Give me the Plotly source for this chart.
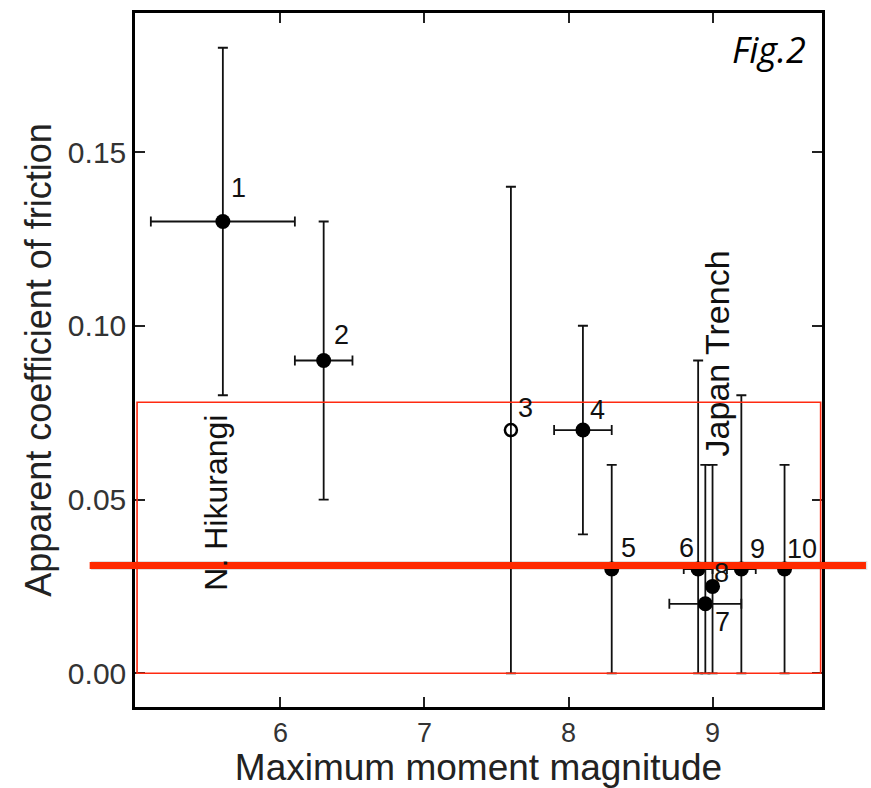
import plotly.graph_objects as go

# ---- data ----
labels = ["1", "2", "3", "4", "5", "6", "7", "8", "9", "10"]
mag = [5.6, 6.3, 7.6, 8.1, 8.3, 8.9, 8.95, 9.0, 9.2, 9.5]
mag_lo = [5.1, 6.1, 7.6, 7.9, 8.3, 8.8, 8.7, 9.0, 9.1, 9.5]
mag_hi = [6.1, 6.5, 7.6, 8.3, 8.3, 9.0, 9.2, 9.0, 9.3, 9.5]
mu = [0.13, 0.09, 0.07, 0.07, 0.03, 0.03, 0.02, 0.025, 0.03, 0.03]
mu_lo = [0.08, 0.05, 0.0, 0.04, 0.0, 0.0, 0.0, 0.0, 0.0, 0.0]
mu_hi = [0.18, 0.13, 0.14, 0.10, 0.06, 0.09, 0.06, 0.06, 0.08, 0.06]
open_marker = [False, False, True, False, False, False, False, False, False, False]
label_shift = [(16, 34), (18, 26), (15, 22), (15, 20), (17, 21), (-12, 21),
               (17, -18), (9, 13), (16, 20), (17, 20)]

region_text = ["N. Hikurangi", "Japan Trench"]
region_x = [5.55, 9.03]
region_y = [0.049, 0.092]
region_size = [32, 34]

box_y = [0.0, 0.078]
red_line_y = 0.031

xticks = [6, 7, 8, 9]
yticks = [0.0, 0.05, 0.10, 0.15]
ytick_text = ["0.00", "0.05", "0.10", "0.15"]

FONT = "Liberation Sans, Arial"

fig = go.Figure()

for i in range(len(mag)):
    fig.add_trace(go.Scatter(
        x=[mag[i]], y=[mu[i]], mode="markers",
        marker=dict(
            symbol="circle-open" if open_marker[i] else "circle",
            size=12 if open_marker[i] else 15,
            color="black",
            line=dict(width=2.5 if open_marker[i] else 0, color="black"),
        ),
        error_x=dict(type="data", symmetric=False,
                     array=[mag_hi[i] - mag[i]], arrayminus=[mag[i] - mag_lo[i]],
                     color="#111", thickness=1.8, width=5,
                     visible=(mag_hi[i] - mag_lo[i]) > 0),
        error_y=dict(type="data", symmetric=False,
                     array=[mu_hi[i] - mu[i]], arrayminus=[mu[i] - mu_lo[i]],
                     color="#111", thickness=1.8, width=5),
        showlegend=False, hoverinfo="skip",
    ))

annotations = []
for i, lab in enumerate(labels):
    dx, dy = label_shift[i]
    annotations.append(dict(x=mag[i], y=mu[i], text=lab, showarrow=False,
                            xshift=dx, yshift=dy,
                            font=dict(family=FONT, size=27, color="#111")))
for t, x, y, s in zip(region_text, region_x, region_y, region_size):
    annotations.append(dict(x=x, y=y, text=t, showarrow=False, textangle=-90,
                            font=dict(family=FONT, size=s, color="#111")))
annotations.append(dict(x=0.98, y=0.985, xref="paper", yref="paper", text="<i>Fig.2</i>",
                        showarrow=False, xanchor="right", yanchor="top",
                        font=dict(family="Open Sans, Liberation Sans", size=36, color="black")))

shapes = [
    dict(type="rect", xref="paper", yref="y", x0=0.003, x1=0.998, y0=box_y[0], y1=box_y[1],
         line=dict(color="#ff2a10", width=1.6), fillcolor="rgba(0,0,0,0)"),
    dict(type="line", xref="paper", yref="y", x0=-0.064, x1=1.066, y0=red_line_y, y1=red_line_y,
         line=dict(color="rgba(0,0,0,0.12)", width=9)),
    dict(type="line", xref="paper", yref="y", x0=-0.066, x1=1.064, y0=red_line_y, y1=red_line_y,
         line=dict(color="#ff2a00", width=7)),
]

fig.update_layout(
    width=871, height=788,
    margin=dict(l=135, r=49, t=10, b=80),
    paper_bgcolor="white", plot_bgcolor="white",
    annotations=annotations, shapes=shapes,
    xaxis=dict(range=[4.99, 9.76], tickvals=xticks, ticks="inside", ticklen=10, tickwidth=1.5,
               tickcolor="#222", showline=True, linecolor="black", linewidth=2.5, mirror="ticks",
               showgrid=False, zeroline=False,
               tickfont=dict(family=FONT, size=27, color="#333"),
               title=dict(text="Maximum moment magnitude", standoff=4,
                          font=dict(family=FONT, size=37, color="#222"))),
    yaxis=dict(range=[-0.0097, 0.190], tickvals=yticks, ticktext=ytick_text, ticks="inside",
               ticklen=10, tickwidth=1.5, tickcolor="#222", showline=True, linecolor="black",
               linewidth=2.5, mirror="ticks", showgrid=False, zeroline=False,
               tickfont=dict(family=FONT, size=30, color="#333"),
               title=dict(text="Apparent coefficient of friction", standoff=6,
                          font=dict(family=FONT, size=36, color="#222"))),
)

fig.write_html("out.html")
